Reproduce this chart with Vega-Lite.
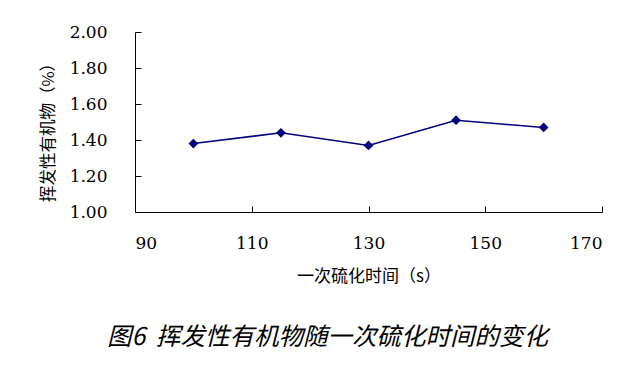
{
  "$schema": "https://vega.github.io/schema/vega-lite/v6.json",
  "width": 467,
  "height": 180,
  "autosize": {"type": "none"},
  "padding": {"left": 135, "top": 32, "right": 36, "bottom": 160},
  "background": "white",
  "config": {"view": {"stroke": null}},
  "title": {
    "text": "图6\u00a0\u00a0挥发性有机物随一次硫化时间的变化",
    "orient": "bottom",
    "anchor": "middle",
    "font": "Noto Sans CJK SC",
    "fontSize": 24.5,
    "fontStyle": "italic",
    "fontWeight": "normal",
    "color": "#000000",
    "offset": 42,
    "dx": -41
  },
  "data": {
    "values": [
      {"t": 100, "v": 1.38},
      {"t": 115, "v": 1.44},
      {"t": 130, "v": 1.37},
      {"t": 145, "v": 1.51},
      {"t": 160, "v": 1.47}
    ]
  },
  "mark": {"type": "line", "color": "#000080", "strokeWidth": 1.5, "point": {"shape": "diamond", "size": 95, "filled": true, "color": "#000080"}},
  "encoding": {
    "x": {
      "field": "t", "type": "quantitative",
      "scale": {"domain": [90, 170], "nice": false, "zero": false},
      "axis": {
        "values": [90, 110, 130, 150, 170],
        "title": "一次硫化时间（s）",
        "titleFont": "Noto Sans CJK SC", "titleFontSize": 17, "titleFontWeight": "normal", "titleColor": "#000",
        "titlePadding": 17,
        "labelFont": "DejaVu Serif", "labelFontSize": 17, "labelColor": "#000",
        "labelPadding": 29,
        "tickSize": -6, "tickColor": "#000", "domainColor": "#000", "grid": false
      }
    },
    "y": {
      "field": "v", "type": "quantitative",
      "scale": {"domain": [1, 2], "nice": false, "zero": false},
      "axis": {
        "values": [1, 1.2, 1.4, 1.6, 1.8, 2.0],
        "format": ".2f",
        "title": "挥发性有机物（%）",
        "titleFont": "Noto Sans CJK SC", "titleFontSize": 16.5, "titleFontWeight": "normal", "titleColor": "#000",
        "titlePadding": 13,
        "titleY": 96,
        "labelFont": "DejaVu Serif", "labelFontSize": 17, "labelColor": "#000",
        "labelPadding": 34,
        "tickSize": -6, "tickColor": "#000", "domainColor": "#000", "grid": false
      }
    }
  }
}
